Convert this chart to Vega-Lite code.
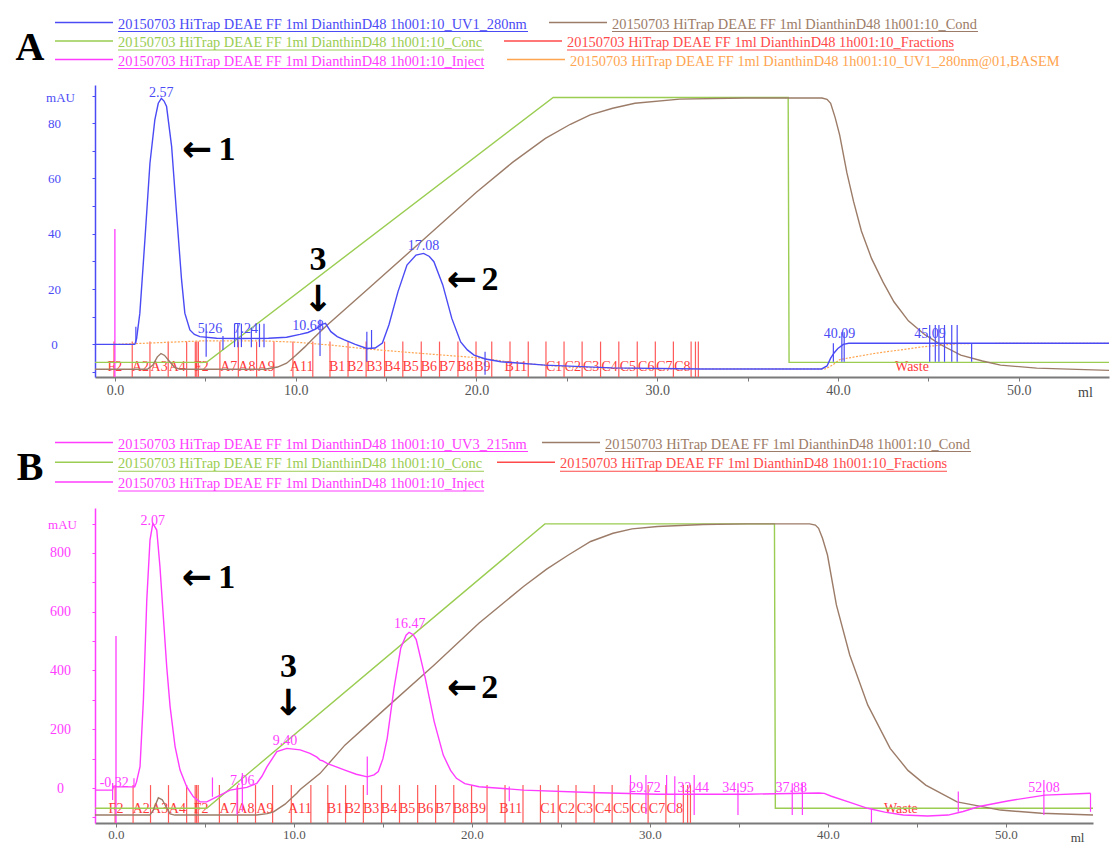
{
"$schema":"https://vega.github.io/schema/vega-lite/v6.json",
"padding":{"left":15,"top":0,"right":0,"bottom":0},
"spacing":0,
"config":{"view":{"stroke":null}},
"datasets":{
"legA":[
{"series":"UV1","label":"20150703 HiTrap DEAE FF 1ml DianthinD48 1h001:10_UV1_280nm","col":0,"row":0},
{"series":"Cond","label":"20150703 HiTrap DEAE FF 1ml DianthinD48 1h001:10_Cond","col":1,"row":0},
{"series":"Conc","label":"20150703 HiTrap DEAE FF 1ml DianthinD48 1h001:10_Conc","col":0,"row":1},
{"series":"Fractions","label":"20150703 HiTrap DEAE FF 1ml DianthinD48 1h001:10_Fractions","col":1,"row":1},
{"series":"Inject","label":"20150703 HiTrap DEAE FF 1ml DianthinD48 1h001:10_Inject","col":0,"row":2},
{"series":"BASEM","label":"20150703 HiTrap DEAE FF 1ml DianthinD48 1h001:10_UV1_280nm@01,BASEM","col":1,"row":2}
],
"legB":[
{"series":"UV3","label":"20150703 HiTrap DEAE FF 1ml DianthinD48 1h001:10_UV3_215nm","col":0,"row":0},
{"series":"Cond","label":"20150703 HiTrap DEAE FF 1ml DianthinD48 1h001:10_Cond","col":1,"row":0},
{"series":"Conc","label":"20150703 HiTrap DEAE FF 1ml DianthinD48 1h001:10_Conc","col":0,"row":1},
{"series":"Fractions","label":"20150703 HiTrap DEAE FF 1ml DianthinD48 1h001:10_Fractions","col":1,"row":1},
{"series":"Inject","label":"20150703 HiTrap DEAE FF 1ml DianthinD48 1h001:10_Inject","col":0,"row":2}
],
"frac":[{"x":-0.05},{"x":0.96},{"x":1.94},{"x":2.95},{"x":3.97},{"x":4.45},{"x":4.53},{"x":4.62},{"x":5.81},{"x":6.83},{"x":7.84},{"x":8.8},{"x":9.85},{"x":10.95},{"x":11.9},{"x":12.9},{"x":13.9},{"x":14.92},{"x":15.93},{"x":16.95},{"x":17.96},{"x":18.98},{"x":19.98},{"x":20.85},{"x":21.86},{"x":22.87},{"x":23.85},{"x":24.85},{"x":25.85},{"x":26.87},{"x":27.88},{"x":28.9},{"x":29.9},{"x":30.9},{"x":31.88},{"x":32.12},{"x":32.28}],
"fraclab":[{"t":"F2","x":0.0},{"t":"A2","x":1.42},{"t":"A3","x":2.45},{"t":"A4","x":3.45},{"t":"F2","x":4.78},{"t":"A7","x":6.3},{"t":"A8","x":7.3},{"t":"A9","x":8.37},{"t":"A11","x":10.33},{"t":"B1","x":12.3},{"t":"B2","x":13.3},{"t":"B3","x":14.34},{"t":"B4","x":15.34},{"t":"B5","x":16.36},{"t":"B6","x":17.37},{"t":"B7","x":18.38},{"t":"B8","x":19.38},{"t":"B9","x":20.33},{"t":"B11","x":22.18},{"t":"C1","x":24.3},{"t":"C2","x":25.33},{"t":"C3","x":26.35},{"t":"C4","x":27.37},{"t":"C5","x":28.38},{"t":"C6","x":29.4},{"t":"C7","x":30.4},{"t":"C8","x":31.4},{"t":"Waste","x":44.1}],
"aBase":[{"x":0,"y":0},{"x":2,"y":0.5},{"x":5,"y":1.3},{"x":8,"y":1.3},{"x":10,"y":0.8},{"x":12,"y":-0.3},{"x":14,"y":-1.7},{"x":17,"y":-3.3},{"x":20,"y":-4.8},{"x":22,"y":-6.5},{"x":25,"y":-8.2},{"x":30,"y":-8.9},{"x":39.3,"y":-8.9},{"x":39.7,"y":-7.5},{"x":40.1,"y":-5.5},{"x":42,"y":-3.3},{"x":44.8,"y":-0.8},{"x":46.8,"y":0.3},{"x":55,"y":0.4}],
"aLines":[
{"s":"Conc","x":-1.1,"y":-6.5},{"s":"Conc","x":5.07,"y":-6.5},{"s":"Conc","x":24.25,"y":89.3},{"s":"Conc","x":37.25,"y":89.3},{"s":"Conc","x":37.3,"y":-6.5},{"s":"Conc","x":55,"y":-6.5},
{"s":"Cond","x":-1.1,"y":-9},{"s":"Cond","x":1.8,"y":-9},{"s":"Cond","x":2.1,"y":-7.5},{"s":"Cond","x":2.35,"y":-4.5},{"s":"Cond","x":2.55,"y":-3.3},{"s":"Cond","x":2.75,"y":-4},{"s":"Cond","x":3.0,"y":-6},{"s":"Cond","x":3.3,"y":-8.3},{"s":"Cond","x":3.6,"y":-9},{"s":"Cond","x":8.3,"y":-9},{"s":"Cond","x":9.0,"y":-8.2},{"s":"Cond","x":9.5,"y":-6.8},{"s":"Cond","x":10,"y":-4},{"s":"Cond","x":10.5,"y":-1},{"s":"Cond","x":11,"y":2.3},{"s":"Cond","x":11.72,"y":6.8},{"s":"Cond","x":14,"y":20},{"s":"Cond","x":17,"y":37.5},{"s":"Cond","x":20,"y":55},{"s":"Cond","x":22,"y":65.8},{"s":"Cond","x":23.82,"y":74.5},{"s":"Cond","x":25.2,"y":79.6},{"s":"Cond","x":26.3,"y":83},{"s":"Cond","x":27.54,"y":85.4},{"s":"Cond","x":28.77,"y":87.2},{"s":"Cond","x":31.25,"y":88.7},{"s":"Cond","x":34.9,"y":89.1},{"s":"Cond","x":39.12,"y":89.1},{"s":"Cond","x":39.4,"y":88.6},{"s":"Cond","x":39.6,"y":87.2},{"s":"Cond","x":39.85,"y":82},{"s":"Cond","x":40.1,"y":75.7},{"s":"Cond","x":40.5,"y":62},{"s":"Cond","x":40.87,"y":51.6},{"s":"Cond","x":41.3,"y":41},{"s":"Cond","x":41.86,"y":31.1},{"s":"Cond","x":42.5,"y":22.5},{"s":"Cond","x":43.1,"y":15.4},{"s":"Cond","x":43.9,"y":8.5},{"s":"Cond","x":44.83,"y":3.4},{"s":"Cond","x":45.8,"y":-0.5},{"s":"Cond","x":46.8,"y":-3.9},{"s":"Cond","x":48,"y":-6},{"s":"Cond","x":49,"y":-7.5},{"s":"Cond","x":51,"y":-8.6},{"s":"Cond","x":55,"y":-9.4},
{"s":"UV1","x":-1.1,"y":0},{"s":"UV1","x":1.1,"y":0},{"s":"UV1","x":1.2,"y":2},{"s":"UV1","x":1.38,"y":11.2},{"s":"UV1","x":1.66,"y":37.7},{"s":"UV1","x":1.94,"y":65.5},{"s":"UV1","x":2.21,"y":81.2},{"s":"UV1","x":2.4,"y":87.2},{"s":"UV1","x":2.57,"y":89},{"s":"UV1","x":2.72,"y":88},{"s":"UV1","x":2.86,"y":86},{"s":"UV1","x":3.14,"y":71.5},{"s":"UV1","x":3.41,"y":47.5},{"s":"UV1","x":3.69,"y":23.3},{"s":"UV1","x":3.87,"y":11.3},{"s":"UV1","x":4.15,"y":5.2},{"s":"UV1","x":4.4,"y":3.6},{"s":"UV1","x":4.7,"y":2.8},{"s":"UV1","x":5.63,"y":2.2},{"s":"UV1","x":7,"y":2.1},{"s":"UV1","x":8.5,"y":2.2},{"s":"UV1","x":9.5,"y":2.6},{"s":"UV1","x":10.24,"y":3.6},{"s":"UV1","x":10.68,"y":4.3},{"s":"UV1","x":11.1,"y":5.5},{"s":"UV1","x":11.5,"y":7.3},{"s":"UV1","x":11.65,"y":7.6},{"s":"UV1","x":11.95,"y":4.6},{"s":"UV1","x":12.3,"y":2.8},{"s":"UV1","x":12.7,"y":1.6},{"s":"UV1","x":13.3,"y":0},{"s":"UV1","x":13.94,"y":-1.5},{"s":"UV1","x":14.4,"y":-1.3},{"s":"UV1","x":14.8,"y":0.5},{"s":"UV1","x":15.16,"y":7},{"s":"UV1","x":15.66,"y":19},{"s":"UV1","x":16.16,"y":28.7},{"s":"UV1","x":16.66,"y":32.3},{"s":"UV1","x":17.08,"y":32.9},{"s":"UV1","x":17.4,"y":31.8},{"s":"UV1","x":17.65,"y":29.9},{"s":"UV1","x":18.14,"y":21.5},{"s":"UV1","x":18.64,"y":9.4},{"s":"UV1","x":19.13,"y":0.9},{"s":"UV1","x":19.5,"y":-2},{"s":"UV1","x":19.87,"y":-3.9},{"s":"UV1","x":20.5,"y":-5.3},{"s":"UV1","x":21.36,"y":-6.3},{"s":"UV1","x":23.8,"y":-7.5},{"s":"UV1","x":27.5,"y":-8.5},{"s":"UV1","x":32.5,"y":-8.9},{"s":"UV1","x":39.1,"y":-8.9},{"s":"UV1","x":39.4,"y":-7.8},{"s":"UV1","x":39.6,"y":-5},{"s":"UV1","x":39.8,"y":-3},{"s":"UV1","x":40,"y":-1.5},{"s":"UV1","x":40.3,"y":0},{"s":"UV1","x":40.6,"y":0.4},{"s":"UV1","x":55,"y":0.4}
],
"aMark":[{"x":1.16,"y":0.4,"y2":6.4},{"x":5.05,"y":-4.5,"y2":7.5},{"x":5.98,"y":-2,"y2":3},{"x":6.62,"y":-1,"y2":7.5},{"x":6.8,"y":-1,"y2":7.5},{"x":7.0,"y":-1,"y2":7.5},{"x":7.55,"y":-1,"y2":6},{"x":8.0,"y":-1,"y2":7.5},{"x":8.25,"y":-1,"y2":7.5},{"x":11.35,"y":-4.2,"y2":9},{"x":13.94,"y":-6.3,"y2":4.6},{"x":14.2,"y":-1.5,"y2":5.2},{"x":20.48,"y":-11,"y2":-2.7},{"x":39.75,"y":-6.3,"y2":0.4},{"x":40.22,"y":-6.3,"y2":4.4},{"x":40.35,"y":-6.3,"y2":4.4},{"x":45.08,"y":-6.3,"y2":7},{"x":45.39,"y":-6.3,"y2":7},{"x":45.59,"y":-6.3,"y2":7},{"x":45.9,"y":-6.3,"y2":7},{"x":46.3,"y":-6.3,"y2":7},{"x":46.6,"y":-6.3,"y2":7},{"x":47.4,"y":-6.3,"y2":0.4}],
"aPeak":[{"t":"2.57","x":2.57,"y":89.5},{"t":"5.26","x":5.26,"y":4.1},{"t":"7.24","x":7.24,"y":4.1},{"t":"10.68","x":10.68,"y":5.2},{"t":"17.08","x":17.08,"y":34.1},{"t":"40.09","x":40.09,"y":2.2},{"t":"45.09","x":45.09,"y":2.2}],
"bLines":[
{"s":"Conc","x":-1.18,"y":-69},{"s":"Conc","x":5.1,"y":-69},{"s":"Conc","x":24.1,"y":899},{"s":"Conc","x":37,"y":899},{"s":"Conc","x":37.05,"y":-69},{"s":"Conc","x":54.9,"y":-69},
{"s":"Cond","x":-1.18,"y":-92},{"s":"Cond","x":1.9,"y":-92},{"s":"Cond","x":2.1,"y":-75},{"s":"Cond","x":2.38,"y":-33},{"s":"Cond","x":2.6,"y":-40},{"s":"Cond","x":2.8,"y":-62},{"s":"Cond","x":3.04,"y":-88},{"s":"Cond","x":3.3,"y":-92},{"s":"Cond","x":7.9,"y":-92},{"s":"Cond","x":8.5,"y":-87},{"s":"Cond","x":8.85,"y":-81},{"s":"Cond","x":9.5,"y":-55},{"s":"Cond","x":10.16,"y":-18},{"s":"Cond","x":10.35,"y":-5},{"s":"Cond","x":11.47,"y":50},{"s":"Cond","x":12.86,"y":146},{"s":"Cond","x":15.37,"y":283},{"s":"Cond","x":17.88,"y":419},{"s":"Cond","x":20.39,"y":561},{"s":"Cond","x":22.9,"y":686},{"s":"Cond","x":24.2,"y":745},{"s":"Cond","x":25.42,"y":793},{"s":"Cond","x":26.67,"y":839},{"s":"Cond","x":27.93,"y":867},{"s":"Cond","x":29,"y":882},{"s":"Cond","x":30.43,"y":890},{"s":"Cond","x":33,"y":897},{"s":"Cond","x":35.45,"y":899},{"s":"Cond","x":38.98,"y":899},{"s":"Cond","x":39.3,"y":895},{"s":"Cond","x":39.48,"y":884},{"s":"Cond","x":39.7,"y":850},{"s":"Cond","x":39.98,"y":793},{"s":"Cond","x":40.48,"y":623},{"s":"Cond","x":41.23,"y":453},{"s":"Cond","x":42.24,"y":283},{"s":"Cond","x":43.5,"y":135},{"s":"Cond","x":44.5,"y":60},{"s":"Cond","x":45.5,"y":10},{"s":"Cond","x":47.26,"y":-47},{"s":"Cond","x":49.7,"y":-75},{"s":"Cond","x":52,"y":-86},{"s":"Cond","x":54.9,"y":-92},
{"s":"UV3","x":-1.18,"y":-7},{"s":"UV3","x":-0.2,"y":-7},{"s":"UV3","x":-0.15,"y":4},{"s":"UV3","x":1.05,"y":4},{"s":"UV3","x":1.15,"y":20},{"s":"UV3","x":1.35,"y":72.6},{"s":"UV3","x":1.54,"y":300},{"s":"UV3","x":1.73,"y":640},{"s":"UV3","x":1.91,"y":844},{"s":"UV3","x":2.07,"y":901},{"s":"UV3","x":2.29,"y":878},{"s":"UV3","x":2.47,"y":753},{"s":"UV3","x":2.66,"y":583},{"s":"UV3","x":2.85,"y":413},{"s":"UV3","x":3.04,"y":277},{"s":"UV3","x":3.32,"y":141},{"s":"UV3","x":3.6,"y":61},{"s":"UV3","x":3.97,"y":4.4},{"s":"UV3","x":4.35,"y":-30},{"s":"UV3","x":4.72,"y":-47},{"s":"UV3","x":5.1,"y":-47},{"s":"UV3","x":5.66,"y":-30},{"s":"UV3","x":6.41,"y":-7},{"s":"UV3","x":7.35,"y":2.4},{"s":"UV3","x":7.91,"y":16},{"s":"UV3","x":8.2,"y":40},{"s":"UV3","x":8.48,"y":72},{"s":"UV3","x":9.04,"y":124},{"s":"UV3","x":9.6,"y":135},{"s":"UV3","x":10.35,"y":130},{"s":"UV3","x":10.9,"y":118},{"s":"UV3","x":11.29,"y":105},{"s":"UV3","x":11.47,"y":95},{"s":"UV3","x":11.6,"y":93},{"s":"UV3","x":11.86,"y":84},{"s":"UV3","x":12.86,"y":61},{"s":"UV3","x":13.5,"y":47},{"s":"UV3","x":14.12,"y":38},{"s":"UV3","x":14.5,"y":45},{"s":"UV3","x":14.74,"y":56},{"s":"UV3","x":15,"y":100},{"s":"UV3","x":15.24,"y":169},{"s":"UV3","x":15.62,"y":339},{"s":"UV3","x":16,"y":476},{"s":"UV3","x":16.3,"y":520},{"s":"UV3","x":16.47,"y":530},{"s":"UV3","x":16.7,"y":522},{"s":"UV3","x":16.87,"y":505},{"s":"UV3","x":17.38,"y":374},{"s":"UV3","x":17.88,"y":226},{"s":"UV3","x":18.39,"y":112},{"s":"UV3","x":18.8,"y":60},{"s":"UV3","x":19.13,"y":33},{"s":"UV3","x":19.6,"y":15},{"s":"UV3","x":20.4,"y":4.5},{"s":"UV3","x":22.9,"y":-7},{"s":"UV3","x":26.66,"y":-15},{"s":"UV3","x":30.43,"y":-21},{"s":"UV3","x":35.4,"y":-21},{"s":"UV3","x":39.5,"y":-17},{"s":"UV3","x":39.8,"y":-18},{"s":"UV3","x":40.2,"y":-28},{"s":"UV3","x":41.2,"y":-48},{"s":"UV3","x":42.24,"y":-69},{"s":"UV3","x":43.2,"y":-82},{"s":"UV3","x":44.24,"y":-92},{"s":"UV3","x":45.6,"y":-95},{"s":"UV3","x":46.76,"y":-92},{"s":"UV3","x":47.6,"y":-80},{"s":"UV3","x":48.5,"y":-63},{"s":"UV3","x":50.1,"y":-44},{"s":"UV3","x":52.2,"y":-24},{"s":"UV3","x":54.76,"y":-18}
],
"bMark":[{"x":-0.19,"y":-41,"y2":17},{"x":1.01,"y":2.4,"y2":33},{"x":5.42,"y":-30,"y2":36},{"x":6.8,"y":-92,"y2":4.5},{"x":7.1,"y":-81,"y2":51},{"x":14.12,"y":-24,"y2":107},{"x":22.1,"y":-45,"y2":5},{"x":28.91,"y":-18,"y2":44},{"x":29.78,"y":-88,"y2":44},{"x":30.94,"y":-24,"y2":44},{"x":31.4,"y":-81,"y2":40},{"x":32.49,"y":-92,"y2":44},{"x":34.95,"y":-92,"y2":16},{"x":38.0,"y":-92,"y2":16},{"x":38.57,"y":-92,"y2":16},{"x":42.45,"y":-119,"y2":-69},{"x":47.33,"y":-81,"y2":-12},{"x":52.14,"y":-92,"y2":27},{"x":54.76,"y":-81,"y2":-18}],
"bPeak":[{"t":"-0.32","x":-0.1,"y":4.5},{"t":"2.07","x":2.07,"y":895},{"t":"7.06","x":7.1,"y":10},{"t":"9.40","x":9.5,"y":146},{"t":"16.47","x":16.5,"y":544},{"t":"29.72","x":29.72,"y":-12.6},{"t":"32.44","x":32.44,"y":-12.6},{"t":"34.95","x":34.95,"y":-12.6},{"t":"37.88","x":37.95,"y":-12.6},{"t":"52.08","x":52.15,"y":-12.6}]
},
"vconcat":[
{
"width":1014,"height":85,
"encoding":{
"x":{"field":"col","type":"quantitative","scale":{"domain":[0,1],"range":[23,472]},"axis":null},
"y":{"field":"row","type":"quantitative","scale":{"domain":[0,2],"range":[24.5,61.5]},"axis":null},
"color":{"field":"series","type":"nominal","scale":{"domain":["UV1","UV3","Cond","Conc","Fractions","Inject","BASEM"],"range":["#4b4bf5","#ff3cff","#9c7c68","#9acd52","#ff4a4a","#ff3cff","#ffa550"]},"legend":null}
},
"layer":[
{"data":{"name":"legA"},
"mark":{"type":"rule","strokeWidth":1.5,"yOffset":-2,"xOffset":{"expr":"(datum.series=='Cond'?45:(datum.series=='BASEM'?3:0))-63"},"x2Offset":{"expr":"(datum.series=='Cond'?45:(datum.series=='BASEM'?3:0))-5"}},
"encoding":{"x2":{"field":"col"}}},
{"data":{"name":"legA"},
"mark":{"type":"text","align":"left","baseline":"middle","font":"Liberation Serif","fontSize":14.4,"dx":{"expr":"datum.series=='Cond'?45:(datum.series=='BASEM'?3:0)"}},
"encoding":{"text":{"field":"label"}}},
{"data":{"name":"legA"},"transform":[{"filter":"datum.series != 'BASEM'"}],
"mark":{"type":"rule","strokeWidth":1,"yOffset":7,"xOffset":{"expr":"datum.series=='Cond'?45:0"},"x2Offset":{"expr":"(datum.series=='Cond'?45:0)+(datum.series=='UV1'?410:(datum.series=='Fractions'?387:366))"}},
"encoding":{"x2":{"field":"col"}}},
{"data":{"values":[{"t":"A","col":0,"row":1}]},
"mark":{"type":"text","align":"center","baseline":"middle","font":"Liberation Serif","fontWeight":"bold","fontSize":40,"color":"#000000","dx":-88,"dy":5},
"encoding":{"text":{"field":"t"},"color":{"value":"#000000"}}}
]
},
{
"width":1014,"height":292,
"encoding":{
"x":{"field":"x","type":"quantitative","scale":{"domain":[-1.1,55],"nice":false,"zero":false},
"axis":{"values":[0,5,10,15,20,25,30,35,40,45,50],"labelExpr":"datum.value % 10 == 0 ? format(datum.value,'.1f') : ''","title":"ml","titleX":990,"titleY":15,"titleAlign":"center","titleBaseline":"middle","titleFont":"Liberation Serif","titleFontSize":14,"titleFontWeight":"normal","titleColor":"#444444","labelFont":"Liberation Serif","labelFontSize":14,"labelColor":"#555555","domainColor":"#7a7a7a","domainWidth":2,"tickColor":"#7a7a7a","tickSize":4,"labelPadding":2,"grid":false,"labelFlush":false}}
},
"layer":[
{"data":{"name":"frac"},"mark":{"type":"rule","color":"#ff5a5a","strokeWidth":1.2},
"encoding":{"y":{"datum":1,"type":"quantitative","scale":{"domain":[-11.8,93.8],"nice":false,"zero":false},"axis":{"values":[-10,0,10,20,30,40,50,60,70,80,90],"labelExpr":"datum.value % 20 == 0 ? '' + datum.value : ''","title":"mAU","titleAngle":0,"titleX":-35,"titleY":12,"titleAlign":"center","titleBaseline":"middle","titleColor":"#4b4bf5","titleFont":"Liberation Serif","titleFontSize":13,"titleFontWeight":"normal","labelAlign":"center","labelBaseline":"middle","labelPadding":38,"labelColor":"#4b4bf5","labelFont":"Liberation Serif","labelFontSize":13,"tickColor":"#4b4bf5","tickSize":3,"domainColor":"#4b4bf5","domainWidth":1.5,"grid":false,"labelFlush":false}},"y2":{"datum":-11.8}}},
{"data":{"name":"fraclab"},"mark":{"type":"text","color":"#ff3a3a","font":"Liberation Serif","fontSize":14,"baseline":"middle","align":"center"},
"encoding":{"y":{"datum":-8.1,"type":"quantitative","scale":{"domain":[-11.8,93.8],"nice":false,"zero":false},"axis":{"values":[-10,0,10,20,30,40,50,60,70,80,90],"labelExpr":"datum.value % 20 == 0 ? '' + datum.value : ''","title":"mAU","titleAngle":0,"titleX":-35,"titleY":12,"titleAlign":"center","titleBaseline":"middle","titleColor":"#4b4bf5","titleFont":"Liberation Serif","titleFontSize":13,"titleFontWeight":"normal","labelAlign":"center","labelBaseline":"middle","labelPadding":38,"labelColor":"#4b4bf5","labelFont":"Liberation Serif","labelFontSize":13,"tickColor":"#4b4bf5","tickSize":3,"domainColor":"#4b4bf5","domainWidth":1.5,"grid":false,"labelFlush":false}},"text":{"field":"t"}}},
{"data":{"values":[{"x":0,"y":-11.8,"y2":41.7}]},"mark":{"type":"rule","color":"#ff3cff","strokeWidth":1.3},
"encoding":{"y":{"field":"y","type":"quantitative","scale":{"domain":[-11.8,93.8],"nice":false,"zero":false},"axis":{"values":[-10,0,10,20,30,40,50,60,70,80,90],"labelExpr":"datum.value % 20 == 0 ? '' + datum.value : ''","title":"mAU","titleAngle":0,"titleX":-35,"titleY":12,"titleAlign":"center","titleBaseline":"middle","titleColor":"#4b4bf5","titleFont":"Liberation Serif","titleFontSize":13,"titleFontWeight":"normal","labelAlign":"center","labelBaseline":"middle","labelPadding":38,"labelColor":"#4b4bf5","labelFont":"Liberation Serif","labelFontSize":13,"tickColor":"#4b4bf5","tickSize":3,"domainColor":"#4b4bf5","domainWidth":1.5,"grid":false,"labelFlush":false}},"y2":{"field":"y2"}}},
{"data":{"name":"aBase"},"mark":{"type":"line","color":"#ffa550","strokeWidth":1.2,"strokeDash":[2,1.5]},
"encoding":{"y":{"field":"y","type":"quantitative","scale":{"domain":[-11.8,93.8],"nice":false,"zero":false},"axis":{"values":[-10,0,10,20,30,40,50,60,70,80,90],"labelExpr":"datum.value % 20 == 0 ? '' + datum.value : ''","title":"mAU","titleAngle":0,"titleX":-35,"titleY":12,"titleAlign":"center","titleBaseline":"middle","titleColor":"#4b4bf5","titleFont":"Liberation Serif","titleFontSize":13,"titleFontWeight":"normal","labelAlign":"center","labelBaseline":"middle","labelPadding":38,"labelColor":"#4b4bf5","labelFont":"Liberation Serif","labelFontSize":13,"tickColor":"#4b4bf5","tickSize":3,"domainColor":"#4b4bf5","domainWidth":1.5,"grid":false,"labelFlush":false}}}},
{"data":{"name":"aLines"},"mark":{"type":"line","strokeWidth":1.4},
"encoding":{"y":{"field":"y","type":"quantitative","scale":{"domain":[-11.8,93.8],"nice":false,"zero":false},"axis":{"values":[-10,0,10,20,30,40,50,60,70,80,90],"labelExpr":"datum.value % 20 == 0 ? '' + datum.value : ''","title":"mAU","titleAngle":0,"titleX":-35,"titleY":12,"titleAlign":"center","titleBaseline":"middle","titleColor":"#4b4bf5","titleFont":"Liberation Serif","titleFontSize":13,"titleFontWeight":"normal","labelAlign":"center","labelBaseline":"middle","labelPadding":38,"labelColor":"#4b4bf5","labelFont":"Liberation Serif","labelFontSize":13,"tickColor":"#4b4bf5","tickSize":3,"domainColor":"#4b4bf5","domainWidth":1.5,"grid":false,"labelFlush":false}},
"color":{"field":"s","type":"nominal","scale":{"domain":["UV1","UV3","Cond","Conc","Fractions","Inject","BASEM"],"range":["#4b4bf5","#ff3cff","#9c7c68","#9acd52","#ff4a4a","#ff3cff","#ffa550"]},"legend":null}}},
{"data":{"name":"aMark"},"mark":{"type":"rule","color":"#4b4bf5","strokeWidth":1.2},
"encoding":{"y":{"field":"y","type":"quantitative","scale":{"domain":[-11.8,93.8],"nice":false,"zero":false},"axis":{"values":[-10,0,10,20,30,40,50,60,70,80,90],"labelExpr":"datum.value % 20 == 0 ? '' + datum.value : ''","title":"mAU","titleAngle":0,"titleX":-35,"titleY":12,"titleAlign":"center","titleBaseline":"middle","titleColor":"#4b4bf5","titleFont":"Liberation Serif","titleFontSize":13,"titleFontWeight":"normal","labelAlign":"center","labelBaseline":"middle","labelPadding":38,"labelColor":"#4b4bf5","labelFont":"Liberation Serif","labelFontSize":13,"tickColor":"#4b4bf5","tickSize":3,"domainColor":"#4b4bf5","domainWidth":1.5,"grid":false,"labelFlush":false}},"y2":{"field":"y2"}}},
{"data":{"name":"aPeak"},"mark":{"type":"text","color":"#4b4bf5","font":"Liberation Serif","fontSize":14,"baseline":"alphabetic","align":"center"},
"encoding":{"y":{"field":"y","type":"quantitative","scale":{"domain":[-11.8,93.8],"nice":false,"zero":false},"axis":{"values":[-10,0,10,20,30,40,50,60,70,80,90],"labelExpr":"datum.value % 20 == 0 ? '' + datum.value : ''","title":"mAU","titleAngle":0,"titleX":-35,"titleY":12,"titleAlign":"center","titleBaseline":"middle","titleColor":"#4b4bf5","titleFont":"Liberation Serif","titleFontSize":13,"titleFontWeight":"normal","labelAlign":"center","labelBaseline":"middle","labelPadding":38,"labelColor":"#4b4bf5","labelFont":"Liberation Serif","labelFontSize":13,"tickColor":"#4b4bf5","tickSize":3,"domainColor":"#4b4bf5","domainWidth":1.5,"grid":false,"labelFlush":false}},"text":{"field":"t"}}},
{"data":{"values":[{"t":"1","x":6.2,"y":70.3},{"t":"2","x":20.75,"y":23.3},{"t":"3","x":11.24,"y":30.5}]},"mark":{"type":"text","color":"#000000","font":"Liberation Serif","fontWeight":"bold","fontSize":34,"baseline":"middle","align":"center"},
"encoding":{"y":{"field":"y","type":"quantitative","scale":{"domain":[-11.8,93.8],"nice":false,"zero":false},"axis":{"values":[-10,0,10,20,30,40,50,60,70,80,90],"labelExpr":"datum.value % 20 == 0 ? '' + datum.value : ''","title":"mAU","titleAngle":0,"titleX":-35,"titleY":12,"titleAlign":"center","titleBaseline":"middle","titleColor":"#4b4bf5","titleFont":"Liberation Serif","titleFontSize":13,"titleFontWeight":"normal","labelAlign":"center","labelBaseline":"middle","labelPadding":38,"labelColor":"#4b4bf5","labelFont":"Liberation Serif","labelFontSize":13,"tickColor":"#4b4bf5","tickSize":3,"domainColor":"#4b4bf5","domainWidth":1.5,"grid":false,"labelFlush":false}},"text":{"field":"t"}}},
{"data":{"values":[{"t":"←","x":4.55,"y":70.3},{"t":"←","x":19.2,"y":23.3},{"t":"↓","x":11.24,"y":16}]},"mark":{"type":"text","color":"#000000","font":"DejaVu Sans","fontWeight":"bold","fontSize":36,"baseline":"middle","align":"center"},
"encoding":{"y":{"field":"y","type":"quantitative","scale":{"domain":[-11.8,93.8],"nice":false,"zero":false},"axis":{"values":[-10,0,10,20,30,40,50,60,70,80,90],"labelExpr":"datum.value % 20 == 0 ? '' + datum.value : ''","title":"mAU","titleAngle":0,"titleX":-35,"titleY":12,"titleAlign":"center","titleBaseline":"middle","titleColor":"#4b4bf5","titleFont":"Liberation Serif","titleFontSize":13,"titleFontWeight":"normal","labelAlign":"center","labelBaseline":"middle","labelPadding":38,"labelColor":"#4b4bf5","labelFont":"Liberation Serif","labelFontSize":13,"tickColor":"#4b4bf5","tickSize":3,"domainColor":"#4b4bf5","domainWidth":1.5,"grid":false,"labelFlush":false}},"text":{"field":"t"}}}
]
},
{
"width":1014,"height":109,
"encoding":{
"x":{"field":"col","type":"quantitative","scale":{"domain":[0,1],"range":[23,465]},"axis":null},
"y":{"field":"row","type":"quantitative","scale":{"domain":[0,2],"range":[45.5,85]},"axis":null},
"color":{"field":"series","type":"nominal","scale":{"domain":["UV1","UV3","Cond","Conc","Fractions","Inject","BASEM"],"range":["#4b4bf5","#ff3cff","#9c7c68","#9acd52","#ff4a4a","#ff3cff","#ffa550"]},"legend":null}
},
"layer":[
{"data":{"name":"legB"},
"mark":{"type":"rule","strokeWidth":1.5,"yOffset":-2,"xOffset":{"expr":"(datum.series=='Cond'?45:0)-63"},"x2Offset":{"expr":"(datum.series=='Cond'?45:0)-5"}},
"encoding":{"x2":{"field":"col"}}},
{"data":{"name":"legB"},
"mark":{"type":"text","align":"left","baseline":"middle","font":"Liberation Serif","fontSize":14.4,"dx":{"expr":"datum.series=='Cond'?45:0"}},
"encoding":{"text":{"field":"label"}}},
{"data":{"name":"legB"},
"mark":{"type":"rule","strokeWidth":1,"yOffset":7,"xOffset":{"expr":"datum.series=='Cond'?45:0"},"x2Offset":{"expr":"(datum.series=='Cond'?45:0)+(datum.series=='UV3'?410:(datum.series=='Fractions'?387:366))"}},
"encoding":{"x2":{"field":"col"}}},
{"data":{"values":[{"t":"B","col":0,"row":1}]},
"mark":{"type":"text","align":"center","baseline":"middle","font":"Liberation Serif","fontWeight":"bold","fontSize":40,"color":"#000000","dx":-88,"dy":4},
"encoding":{"text":{"field":"t"},"color":{"value":"#000000"}}}
]
},
{
"width":998,"height":315,
"encoding":{
"x":{"field":"x","type":"quantitative","scale":{"domain":[-1.18,54.9],"nice":false,"zero":false},
"axis":{"values":[0,5,10,15,20,25,30,35,40,45,50],"labelExpr":"datum.value % 10 == 0 ? format(datum.value,'.1f') : ''","title":"ml","titleX":982,"titleY":14,"titleAlign":"center","titleBaseline":"middle","titleFont":"Liberation Serif","titleFontSize":13,"titleFontWeight":"normal","titleColor":"#444444","labelFont":"Liberation Serif","labelFontSize":13,"labelColor":"#555555","domainColor":"#7a7a7a","domainWidth":2,"tickColor":"#7a7a7a","tickSize":4,"labelPadding":1,"grid":false,"labelFlush":false}}
},
"layer":[
{"data":{"name":"frac"},"mark":{"type":"rule","color":"#ff5a5a","strokeWidth":1.2},
"encoding":{"y":{"datum":10,"type":"quantitative","scale":{"domain":[-119,953],"nice":false,"zero":false},"axis":{"values":[-100,0,100,200,300,400,500,600,700,800,900],"labelExpr":"datum.value % 200 == 0 ? '' + datum.value : ''","title":"mAU","titleAngle":0,"titleX":-33,"titleY":16,"titleAlign":"center","titleBaseline":"middle","titleColor":"#ff3cff","titleFont":"Liberation Serif","titleFontSize":13,"titleFontWeight":"normal","labelAlign":"center","labelBaseline":"middle","labelPadding":32,"labelColor":"#ff3cff","labelFont":"Liberation Serif","labelFontSize":14,"tickColor":"#ff3cff","tickSize":3,"domainColor":"#ff3cff","domainWidth":1.5,"grid":false,"labelFlush":false}},"y2":{"datum":-119}}},
{"data":{"name":"fraclab"},"mark":{"type":"text","color":"#ff3a3a","font":"Liberation Serif","fontSize":14,"baseline":"middle","align":"center"},
"encoding":{"y":{"datum":-71,"type":"quantitative","scale":{"domain":[-119,953],"nice":false,"zero":false},"axis":{"values":[-100,0,100,200,300,400,500,600,700,800,900],"labelExpr":"datum.value % 200 == 0 ? '' + datum.value : ''","title":"mAU","titleAngle":0,"titleX":-33,"titleY":16,"titleAlign":"center","titleBaseline":"middle","titleColor":"#ff3cff","titleFont":"Liberation Serif","titleFontSize":13,"titleFontWeight":"normal","labelAlign":"center","labelBaseline":"middle","labelPadding":32,"labelColor":"#ff3cff","labelFont":"Liberation Serif","labelFontSize":14,"tickColor":"#ff3cff","tickSize":3,"domainColor":"#ff3cff","domainWidth":1.5,"grid":false,"labelFlush":false}},"text":{"field":"t"}}},
{"data":{"values":[{"x":0,"y":-119,"y2":517}]},"mark":{"type":"rule","color":"#ff3cff","strokeWidth":1.3},
"encoding":{"y":{"field":"y","type":"quantitative","scale":{"domain":[-119,953],"nice":false,"zero":false},"axis":{"values":[-100,0,100,200,300,400,500,600,700,800,900],"labelExpr":"datum.value % 200 == 0 ? '' + datum.value : ''","title":"mAU","titleAngle":0,"titleX":-33,"titleY":16,"titleAlign":"center","titleBaseline":"middle","titleColor":"#ff3cff","titleFont":"Liberation Serif","titleFontSize":13,"titleFontWeight":"normal","labelAlign":"center","labelBaseline":"middle","labelPadding":32,"labelColor":"#ff3cff","labelFont":"Liberation Serif","labelFontSize":14,"tickColor":"#ff3cff","tickSize":3,"domainColor":"#ff3cff","domainWidth":1.5,"grid":false,"labelFlush":false}},"y2":{"field":"y2"}}},
{"data":{"name":"bLines"},"mark":{"type":"line","strokeWidth":1.4},
"encoding":{"y":{"field":"y","type":"quantitative","scale":{"domain":[-119,953],"nice":false,"zero":false},"axis":{"values":[-100,0,100,200,300,400,500,600,700,800,900],"labelExpr":"datum.value % 200 == 0 ? '' + datum.value : ''","title":"mAU","titleAngle":0,"titleX":-33,"titleY":16,"titleAlign":"center","titleBaseline":"middle","titleColor":"#ff3cff","titleFont":"Liberation Serif","titleFontSize":13,"titleFontWeight":"normal","labelAlign":"center","labelBaseline":"middle","labelPadding":32,"labelColor":"#ff3cff","labelFont":"Liberation Serif","labelFontSize":14,"tickColor":"#ff3cff","tickSize":3,"domainColor":"#ff3cff","domainWidth":1.5,"grid":false,"labelFlush":false}},
"color":{"field":"s","type":"nominal","scale":{"domain":["UV1","UV3","Cond","Conc","Fractions","Inject","BASEM"],"range":["#4b4bf5","#ff3cff","#9c7c68","#9acd52","#ff4a4a","#ff3cff","#ffa550"]},"legend":null}}},
{"data":{"name":"bMark"},"mark":{"type":"rule","color":"#ff3cff","strokeWidth":1.2},
"encoding":{"y":{"field":"y","type":"quantitative","scale":{"domain":[-119,953],"nice":false,"zero":false},"axis":{"values":[-100,0,100,200,300,400,500,600,700,800,900],"labelExpr":"datum.value % 200 == 0 ? '' + datum.value : ''","title":"mAU","titleAngle":0,"titleX":-33,"titleY":16,"titleAlign":"center","titleBaseline":"middle","titleColor":"#ff3cff","titleFont":"Liberation Serif","titleFontSize":13,"titleFontWeight":"normal","labelAlign":"center","labelBaseline":"middle","labelPadding":32,"labelColor":"#ff3cff","labelFont":"Liberation Serif","labelFontSize":14,"tickColor":"#ff3cff","tickSize":3,"domainColor":"#ff3cff","domainWidth":1.5,"grid":false,"labelFlush":false}},"y2":{"field":"y2"}}},
{"data":{"name":"bPeak"},"mark":{"type":"text","color":"#ff3cff","font":"Liberation Serif","fontSize":14,"baseline":"alphabetic","align":"center"},
"encoding":{"y":{"field":"y","type":"quantitative","scale":{"domain":[-119,953],"nice":false,"zero":false},"axis":{"values":[-100,0,100,200,300,400,500,600,700,800,900],"labelExpr":"datum.value % 200 == 0 ? '' + datum.value : ''","title":"mAU","titleAngle":0,"titleX":-33,"titleY":16,"titleAlign":"center","titleBaseline":"middle","titleColor":"#ff3cff","titleFont":"Liberation Serif","titleFontSize":13,"titleFontWeight":"normal","labelAlign":"center","labelBaseline":"middle","labelPadding":32,"labelColor":"#ff3cff","labelFont":"Liberation Serif","labelFontSize":14,"tickColor":"#ff3cff","tickSize":3,"domainColor":"#ff3cff","domainWidth":1.5,"grid":false,"labelFlush":false}},"text":{"field":"t"}}},
{"data":{"values":[{"t":"1","x":6.22,"y":714},{"t":"2","x":21.0,"y":339},{"t":"3","x":9.69,"y":412}]},"mark":{"type":"text","color":"#000000","font":"Liberation Serif","fontWeight":"bold","fontSize":34,"baseline":"middle","align":"center"},
"encoding":{"y":{"field":"y","type":"quantitative","scale":{"domain":[-119,953],"nice":false,"zero":false},"axis":{"values":[-100,0,100,200,300,400,500,600,700,800,900],"labelExpr":"datum.value % 200 == 0 ? '' + datum.value : ''","title":"mAU","titleAngle":0,"titleX":-33,"titleY":16,"titleAlign":"center","titleBaseline":"middle","titleColor":"#ff3cff","titleFont":"Liberation Serif","titleFontSize":13,"titleFontWeight":"normal","labelAlign":"center","labelBaseline":"middle","labelPadding":32,"labelColor":"#ff3cff","labelFont":"Liberation Serif","labelFontSize":14,"tickColor":"#ff3cff","tickSize":3,"domainColor":"#ff3cff","domainWidth":1.5,"grid":false,"labelFlush":false}},"text":{"field":"t"}}},
{"data":{"values":[{"t":"←","x":4.54,"y":714},{"t":"←","x":19.44,"y":339},{"t":"↓","x":9.69,"y":286}]},"mark":{"type":"text","color":"#000000","font":"DejaVu Sans","fontWeight":"bold","fontSize":36,"baseline":"middle","align":"center"},
"encoding":{"y":{"field":"y","type":"quantitative","scale":{"domain":[-119,953],"nice":false,"zero":false},"axis":{"values":[-100,0,100,200,300,400,500,600,700,800,900],"labelExpr":"datum.value % 200 == 0 ? '' + datum.value : ''","title":"mAU","titleAngle":0,"titleX":-33,"titleY":16,"titleAlign":"center","titleBaseline":"middle","titleColor":"#ff3cff","titleFont":"Liberation Serif","titleFontSize":13,"titleFontWeight":"normal","labelAlign":"center","labelBaseline":"middle","labelPadding":32,"labelColor":"#ff3cff","labelFont":"Liberation Serif","labelFontSize":14,"tickColor":"#ff3cff","tickSize":3,"domainColor":"#ff3cff","domainWidth":1.5,"grid":false,"labelFlush":false}},"text":{"field":"t"}}}
]
}
]
}
